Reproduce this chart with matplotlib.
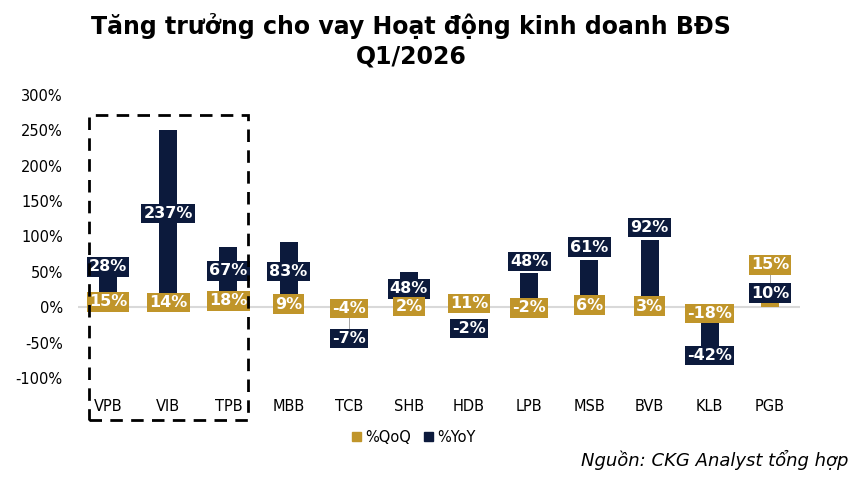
import matplotlib
matplotlib.use("Agg")
import matplotlib.pyplot as plt
import matplotlib.patches as mpatches
import numpy as np

plt.rcParams['font.family'] = ['DejaVu Sans']

banks = ["VPB", "VIB", "TPB", "MBB", "TCB", "SHB", "HDB", "LPB", "MSB", "BVB", "KLB", "PGB"]
qoq = [15, 14, 18, 9, -4, 2, 11, -2, 6, 3, -18, 15]
yoy = [28, 237, 67, 83, -7, 48, -2, 48, 61, 92, -42, 10]
yticks = [-100, -50, 0, 50, 100, 150, 200, 250, 300]

GOLD = "#C0952A"
NAVY = "#0C1A3C"

# manually moved label positions (layout, in data units)
yoy_label_pos = {"VPB": 57, "TCB": -44, "HDB": -30, "LPB": 65, "MSB": 85, "BVB": 113, "KLB": -68}
qoq_label_pos = {"PGB": 60}

fig = plt.figure(figsize=(8.56, 4.80), dpi=100)
ax = fig.add_axes([78/856, (480-378)/480, 722/856, (378-95)/480])

x = np.arange(len(banks))
w = 0.30
qoq_a = np.array(qoq, dtype=float)
yoy_a = np.array(yoy, dtype=float)
# Excel-style stacking: positives and negatives stack separately
yoy_base = np.where(np.sign(yoy_a) == np.sign(qoq_a), qoq_a, 0.0)

ax.axhline(0, color="#D9D9D9", lw=1.5, zorder=1)
ax.bar(x, qoq_a, width=w, color=GOLD, zorder=2, label="%QoQ")
ax.bar(x, yoy_a, width=w, bottom=yoy_base, color=NAVY, zorder=2, label="%YoY")

fs = 11.5
for i, b in enumerate(banks):
    qy = qoq_label_pos.get(b, qoq_a[i] / 2)
    yy = yoy_label_pos.get(b, yoy_base[i] + yoy_a[i] / 2)
    if b in qoq_label_pos:
        ax.plot([i, i], [qoq_a[i] / 2 + 15, qy - 12], color="#A6A6A6", lw=0.7, zorder=3)
    if b == "TCB":
        ax.plot([i, i], [qy - 12, yy + 12], color="#A6A6A6", lw=0.7, zorder=3)
    ax.text(i, yy, f"{yoy[i]}%", ha="center", va="center", color="white",
            fontsize=fs, fontweight="bold", zorder=5,
            bbox=dict(boxstyle="square,pad=0.14", fc=NAVY, ec="none"))
    ax.text(i, qy, f"{qoq[i]}%", ha="center", va="center", color="white",
            fontsize=fs, fontweight="bold", zorder=6,
            bbox=dict(boxstyle="square,pad=0.14", fc=GOLD, ec="none"))

ax.set_xlim(-0.5, len(banks) - 0.5)
ax.set_ylim(-100, 300)
ax.set_yticks(yticks)
ax.set_yticklabels([f"{v}%" for v in yticks], fontsize=10.5)
ax.set_xticks(x)
ax.set_xticklabels(banks, fontsize=10.5)
ax.tick_params(axis="both", length=0)
ax.tick_params(axis="y", pad=11)
ax.tick_params(axis="x", pad=15)
for s in ax.spines.values():
    s.set_visible(False)

fig.text(411/856, 1 - 41/480, "Tăng trưởng cho vay Hoạt động kinh doanh BĐS\nQ1/2026",
         ha="center", va="center", fontsize=17, fontweight="bold", linespacing=1.3)

rect = mpatches.Rectangle((89/856, (480-420)/480), (248-89)/856, (420-115)/480,
                          transform=fig.transFigure, fill=False, ec="black",
                          lw=2.0, ls=(0, (4.5, 3)), zorder=10)
fig.patches.append(rect)

leg = fig.legend(handles=[mpatches.Patch(color=GOLD, label="%QoQ"),
                          mpatches.Patch(color=NAVY, label="%YoY")],
                 loc="center", bbox_to_anchor=(414/856, 1 - 437/480), ncol=2,
                 frameon=False, fontsize=10.5, handlelength=0.6, handleheight=0.6,
                 handletextpad=0.3, columnspacing=0.9)

fig.text(848/856, 1 - 460/480, "Nguồn: CKG Analyst tổng hợp", ha="right", va="center",
         fontsize=13, style="italic")

fig.savefig("out.png", dpi=100)
